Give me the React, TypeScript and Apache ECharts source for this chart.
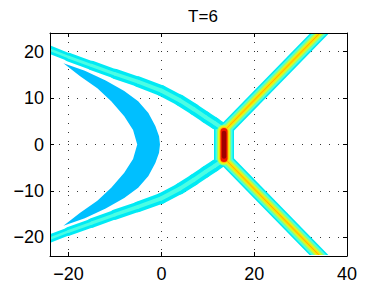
import React, { useEffect, useRef } from "react";
import * as echarts from "echarts";

// ---- data ----
const TITLE = "T=6";
const X_TICKS = [-20, 0, 20, 40];
const Y_TICKS = [-20, -10, 0, 10, 20];
const X_RANGE = [-24, 40];
const Y_RANGE = [-24, 24];

// centre lines of the wave fronts
const UPPER_LEFT_ARM = [
  [-26, 21.2], [-20, 18.8], [-15, 17.0], [-10, 15.2], [-5, 13.5], [0, 11.6],
  [4, 9.5], [7, 7.6], [9.5, 5.9], [11.5, 4.6], [13.4, 3.3],
];
const LOWER_LEFT_ARM = [
  [-26, -21.0], [-20, -18.7], [-15, -16.9], [-10, -15.1], [-5, -13.4], [0, -11.6],
  [4, -9.5], [7, -7.6], [9.5, -5.9], [11.5, -4.6], [13.4, -3.3],
];
const UPPER_RIGHT_ARM = [[13.9, 3.3], [36.7, 26.6]];
const LOWER_RIGHT_ARM = [[13.9, -3.3], [36.7, -26.6]];
const JUNCTION = [[13.5, 3.3], [13.5, -3.4]];
const JUNCTION_PEAK = [[13.5, 2.8], [13.5, -3.0]];
const JUNCTION_CORE = [[13.5, 2.5], [13.5, -2.6]];

// crescent: outer edge top tip -> bottom tip, then inner edge bottom -> top
const CRESCENT = [
  [-21.1, 17.5], [-16.5, 15.9], [-12.0, 13.8], [-8.0, 11.5], [-5.0, 9.3], [-2.8, 6.8],
  [-1.3, 4.0], [-0.5, 1.8], [-0.3, 0],
  [-0.5, -1.8], [-1.3, -4.0], [-2.8, -6.8], [-5.0, -9.3], [-8.0, -11.5], [-12.0, -13.8],
  [-16.5, -15.9], [-21.1, -17.5],
  [-17.5, -14.7], [-13.8, -12.1], [-10.8, -9.3], [-8.0, -6.1], [-6.1, -3.1], [-5.2, 0],
  [-6.1, 3.1], [-8.0, 6.1], [-10.8, 9.3], [-13.8, 12.1], [-17.5, 14.7],
];

// ---- styles ----
const FONT = "'Liberation Sans', Arial, Helvetica, sans-serif";
const CRESCENT_COLOR = "#00bfff";
// per-segment stroke widths of the left arms (px), outer band and light core
const LEFT_OUTER_WIDTHS = [8, 8.8, 9.5, 10.2, 10.8, 11.2, 11.5, 11.5, 11.5, 11.5];
const LEFT_CORE_WIDTHS = [2.6, 2.9, 3.2, 3.5, 3.8, 4, 4, 4, 4, 4];
const LEFT_COLORS = ["#00eaf4", "#4cfde4"];
const LEVELS = [
  { color: "#00eaf4", right: 13.5, junction: 20, jcap: "butt" },
  { color: "#4cfde4", right: 10.5, junction: 17, jcap: "butt" },
  { color: "#8cff78", right: 7.5, junction: 14, jcap: "round" },
  { color: "#d4ff2c", right: 5, junction: 12, jcap: "round" },
  { color: "#ffe000", right: 3, junction: 10, jcap: "round" },
  { color: "#ffb000", right: 1, junction: 8.5, jcap: "round" },
];
const PEAK_COLOR = "#f01800";
const CORE_COLOR = "#a00000";

export default function App() {
  const ref = useRef<HTMLDivElement>(null);
  useEffect(() => {
    if (!ref.current) return;
    const chart = echarts.init(ref.current, null, { renderer: "svg" });
    const rightPath = [...UPPER_RIGHT_ARM].reverse().concat(LOWER_RIGHT_ARM);

    const renderItem = (params: any, api: any) => {
      const pts = (arr: number[][]) => arr.map((p) => api.coord(p));
      const stroke = (arr: number[][], color: string, width: number, cap = "butt") => ({
        type: "polyline",
        shape: { points: pts(arr) },
        style: { stroke: color, lineWidth: width, lineCap: cap, lineJoin: "round", fill: null },
      });
      const tapered = (arr: number[][], widths: number[], color: string) =>
        widths.map((w, i) => stroke([arr[i], arr[i + 1]], color, w, "round"));

      const children: any[] = [
        { type: "polygon", shape: { points: pts(CRESCENT) }, style: { fill: CRESCENT_COLOR } },
      ];
      // left arms: outer band, then light core
      children.push(...tapered(UPPER_LEFT_ARM, LEFT_OUTER_WIDTHS, LEFT_COLORS[0]));
      children.push(...tapered(LOWER_LEFT_ARM, LEFT_OUTER_WIDTHS, LEFT_COLORS[0]));
      children.push(stroke(rightPath, LEVELS[0].color, LEVELS[0].right));
      children.push(stroke(JUNCTION, LEVELS[0].color, LEVELS[0].junction));
      children.push(...tapered(UPPER_LEFT_ARM, LEFT_CORE_WIDTHS, LEFT_COLORS[1]));
      children.push(...tapered(LOWER_LEFT_ARM, LEFT_CORE_WIDTHS, LEFT_COLORS[1]));
      LEVELS.slice(1).forEach((lv) => {
        children.push(stroke(rightPath, lv.color, lv.right));
        children.push(
          stroke(lv.jcap === "butt" ? JUNCTION : JUNCTION_PEAK, lv.color, lv.junction, lv.jcap)
        );
      });
      children.push(stroke(JUNCTION_PEAK, PEAK_COLOR, 7, "round"));
      children.push(stroke(JUNCTION_CORE, CORE_COLOR, 4.5, "round"));
      const cs = params.coordSys;
      return {
        type: "group",
        clipPath: {
          type: "rect",
          shape: { x: cs.x + 1, y: cs.y + 1, width: cs.width - 2, height: cs.height - 2 },
        },
        children,
      };
    };

    const fmt = (v: number) => String(v).replace("-", "\u2212");
    const axisLine = { show: true, onZero: false, lineStyle: { color: "#000", width: 1 } };
    const split = { show: true, lineStyle: { color: "#333", width: 1, type: [1, 8] } };
    const labelStyle = { color: "#000", fontSize: 18, fontFamily: FONT };
    const tick = (vals: number[]) => ({
      show: true, inside: true, length: 4, customValues: vals, lineStyle: { color: "#000" },
    });

    chart.setOption({
      animation: false,
      backgroundColor: "#fff",
      title: {
        text: TITLE,
        left: 198,
        top: 3,
        textAlign: "center",
        textStyle: { fontSize: 17, fontWeight: "normal", color: "#000", fontFamily: FONT },
      },
      grid: { left: 50, right: 37, top: 33, bottom: 32, show: false },
      xAxis: [
        {
          type: "value", min: X_RANGE[0], max: X_RANGE[1], position: "bottom",
          axisLine, axisTick: tick(X_TICKS),
          axisLabel: { customValues: X_TICKS, formatter: fmt, margin: 9, ...labelStyle },
          splitLine: split,
        },
        {
          type: "value", min: X_RANGE[0], max: X_RANGE[1], position: "top",
          axisLine, axisTick: tick(X_TICKS), axisLabel: { show: false }, splitLine: { show: false },
        },
      ],
      yAxis: [
        {
          type: "value", min: Y_RANGE[0], max: Y_RANGE[1], position: "left",
          axisLine, axisTick: tick(Y_TICKS),
          axisLabel: { customValues: Y_TICKS, formatter: fmt, margin: 6, ...labelStyle },
          splitLine: split,
        },
        {
          type: "value", min: Y_RANGE[0], max: Y_RANGE[1], position: "right",
          axisLine, axisTick: tick(Y_TICKS), axisLabel: { show: false }, splitLine: { show: false },
        },
      ],
      series: [
        {
          type: "custom",
          silent: true,
          clip: false,
          data: [[0, 0]],
          renderItem,
        },
      ],
    });
    return () => chart.dispose();
  }, []);
  return (
    <div
      ref={ref}
      style={{ position: "fixed", left: 0, top: 0, width: 384, height: 288, background: "#fff" }}
    />
  );
}
